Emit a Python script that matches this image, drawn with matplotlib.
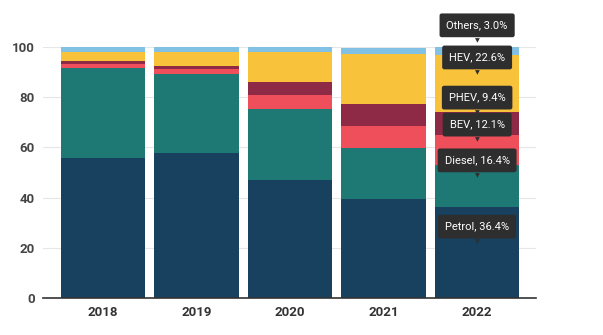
import matplotlib.pyplot as plt
import numpy as np

plt.rcParams['font.family'] = ['Roboto', 'DejaVu Sans']

# Data (share of sales, %)
years = ["2018", "2019", "2020", "2021", "2022"]
fuels = ["Petrol", "Diesel", "BEV", "PHEV", "HEV", "Others"]
petrol = [55.8, 57.6, 47.0, 39.4, 36.4]
diesel = [36.0, 31.5, 28.3, 20.2, 16.4]
bev = [1.3, 2.0, 5.6, 9.0, 12.1]
phev = [1.2, 1.5, 5.0, 8.6, 9.4]
hev = [3.6, 5.4, 12.1, 19.9, 22.6]
others = [2.1, 2.1, 1.9, 2.7, 3.0]
colors = ["#17415f", "#1e7873", "#ee4f5b", "#8e2946", "#f8c33b", "#83c1e4"]

series = [petrol, diesel, bev, phev, hev, others]

fig = plt.figure(figsize=(6.03, 3.35), dpi=100)
ax = fig.add_axes([0.0713, 0.1104, 0.8177, 0.7493])

x = np.arange(len(years))
bottom = np.zeros(len(years))
for vals, c in zip(series, colors):
    ax.bar(x, vals, bottom=bottom, width=0.9, color=c, zorder=2)
    bottom += np.array(vals)

# tooltips on the last bar
last = len(years) - 1
base = 0.0
for name, vals in zip(fuels, series):
    v = vals[last]
    mid = base + v / 2
    ax.annotate(f"{name}, {v:.1f}%", xy=(x[last], mid), xytext=(0, 18.5),
                textcoords="offset points", ha="center", va="center",
                color="white", fontsize=8, zorder=5, annotation_clip=False,
                bbox=dict(boxstyle="round,pad=0.62,rounding_size=0.2",
                          fc="#2e2e2e", ec="none"))
    ax.annotate("\u25BC", xy=(x[last], mid), xytext=(0, 9.3),
                textcoords="offset points", ha="center", va="top",
                color="#2e2e2e", fontsize=4.5, zorder=6, annotation_clip=False,
                family="DejaVu Sans")
    base += v

ax.set_xlim(-0.64, 4.63)
ax.set_ylim(0, 100)
ax.set_yticks([0, 20, 40, 60, 80, 100])
ax.set_xticks(x)
ax.set_xticklabels(years, fontweight="bold", fontsize=9.5, color="#333333")
for lab in ax.get_yticklabels():
    lab.set_fontsize(9.5)
    lab.set_fontweight("bold")
    lab.set_color("#444444")
ax.tick_params(length=0, pad=6)
ax.yaxis.grid(True, color="#e6e6e6", linewidth=0.8, zorder=0)
ax.set_axisbelow(True)
for s in ["top", "right", "left"]:
    ax.spines[s].set_visible(False)
ax.spines["bottom"].set_color("#333333")
ax.spines["bottom"].set_linewidth(1.2)
ax.spines["bottom"].set_zorder(3)

fig.savefig("out.png", dpi=100, facecolor="white")
